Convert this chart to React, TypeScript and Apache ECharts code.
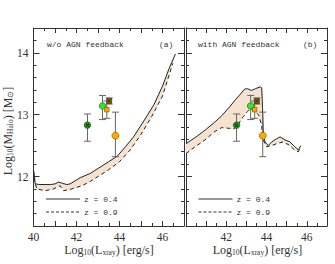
import React, { useEffect, useRef } from "react";
import * as echarts from "echarts";

// ---- data ----
// left panel (a): w/o AGN feedback
const aUpperX = [40.0, 40.03, 40.08, 40.3, 40.78, 41.0, 41.16, 41.35, 41.55, 41.7, 42.17, 42.64, 43.0, 43.5, 43.9, 44.3, 44.65, 45.1, 45.6, 46.0, 46.3, 46.6];
const aUpperY = [12.1, 12.04, 11.88, 11.87, 11.87, 11.88, 11.91, 11.89, 11.87, 11.88, 11.98, 12.05, 12.13, 12.24, 12.33, 12.49, 12.64, 12.88, 13.16, 13.46, 13.74, 13.98];
const aLowerX = [40.0, 40.05, 40.15, 40.54, 40.93, 41.24, 41.4, 41.78, 42.25, 42.64, 43.0, 43.5, 44.0, 44.5, 45.0, 45.5, 46.0, 46.48];
const aLowerY = [12.1, 11.92, 11.8, 11.77, 11.8, 11.85, 11.77, 11.8, 11.85, 11.92, 12.0, 12.11, 12.24, 12.43, 12.68, 12.97, 13.3, 13.83];

// right panel (b): with AGN feedback
const bUpperX = [40.0, 40.5, 40.95, 41.4, 41.8, 42.2, 42.45, 42.7, 42.9, 43.05, 43.25, 43.45, 43.7, 43.76, 43.8, 43.84, 43.92, 44.08, 44.26, 44.5, 44.67, 44.92, 45.16, 45.4, 45.58, 45.7];
const bUpperY = [12.53, 12.64, 12.75, 12.87, 12.99, 13.14, 13.24, 13.33, 13.41, 13.42, 13.39, 13.42, 13.45, 13.43, 13.1, 12.66, 12.56, 12.5, 12.56, 12.61, 12.64, 12.59, 12.56, 12.48, 12.43, 12.5];
const bLowerX = [40.0, 40.45, 40.94, 41.44, 41.77, 42.1, 42.4, 42.6, 42.85, 43.05, 43.2, 43.4, 43.6, 43.75, 43.83, 44.0, 44.26, 44.5, 44.83, 45.16, 45.41, 45.58, 45.7];
const bLowerY = [12.37, 12.48, 12.59, 12.73, 12.79, 12.78, 12.77, 12.85, 12.97, 13.05, 13.1, 13.05, 13.0, 12.83, 12.59, 12.48, 12.5, 12.53, 12.56, 12.5, 12.42, 12.4, 12.48];

// observed points
const pointX = [42.51, 43.21, 43.41, 43.52, 43.81];
const pointY = [12.83, 13.14, 13.08, 13.22, 12.66];
const errLow = [12.57, 12.92, 12.94, 13.17, 12.32];
const errHigh = [13.01, 13.31, 13.22, 13.27, 13.04];
const crossed = [true, false, false, true, false];

const xTicksLabeled = [40, 42, 44, 46];
const yTicksLabeled = [12, 13, 14];
const panelTitles = ["w/o AGN feedback", "with AGN feedback"];
const panelTags = ["(a)", "(b)"];
const legendLabels = ["z = 0.4", "z = 0.9"];

// ---- styles ----
const markerSymbols = ["circle", "circle", "rect", "rect", "circle"];
const markerSizes = [6.5, 6.5, 4.5, 5, 7];
const markerColors = ["#1f9e1f", "#2ee82e", "#ffa500", "#a8650c", "#ffaa00"];
const markerBorders = ["#0b4a0b", "#137013", "#8a5a00", "#4a2a00", "#8a5a00"];

const AX = "#333";
const serif = "Liberation Serif";
const mono = "Liberation Mono";

function xAxes(grid: number, showFirst: boolean) {
  const base: any = {
    type: "value",
    gridIndex: grid,
    min: 40,
    max: 47,
    interval: 1,
    splitLine: { show: false },
    axisLine: { show: true, lineStyle: { color: AX, width: 1 } },
    axisTick: { show: true, inside: true, length: 5, lineStyle: { color: AX } },
    minorTick: { show: true, splitNumber: 2, length: 3, lineStyle: { color: AX } },
  };
  return [
    {
      ...base,
      position: "bottom",
      axisLabel: {
        show: true,
        margin: 5,
        color: AX,
        fontFamily: serif,
        fontSize: 11.5,
        formatter: (v: number) =>
          xTicksLabeled.includes(v) && (showFirst || v !== 40) ? String(v) : "",
      },
    },
    { ...base, position: "top", axisLabel: { show: false } },
  ];
}

function yAxes(grid: number, showLabels: boolean) {
  const base: any = {
    type: "value",
    gridIndex: grid,
    min: 11.2,
    max: 14.4,
    interval: 0.2,
    splitLine: { show: false },
  };
  const out: any[] = [];
  for (const pos of ["left", "right"]) {
    out.push({
      ...base,
      position: pos,
      axisLine: { show: true, lineStyle: { color: AX, width: 1 } },
      axisTick: { show: true, inside: true, length: 3, lineStyle: { color: AX } },
      axisLabel: { show: false },
    });
    out.push({
      ...base,
      position: pos,
      axisLine: { show: false },
      axisTick: { show: true, inside: true, length: 6, customValues: yTicksLabeled, lineStyle: { color: AX } },
      axisLabel: {
        show: showLabels && pos === "left",
        customValues: yTicksLabeled,
        margin: 5,
        color: AX,
        fontFamily: serif,
        fontSize: 11.5,
        formatter: (v: number) => String(Math.round(v)),
      },
    });
  }
  return out;
}

function bandSeries(xi: number, yi: number, ux: number[], uy: number[], lx: number[], ly: number[]) {
  return {
    type: "custom",
    xAxisIndex: xi,
    yAxisIndex: yi,
    silent: true,
    z: 1,
    data: [[ux[0], uy[0]]],
    renderItem: (_p: any, api: any) => {
      const pts: number[][] = [];
      ux.forEach((x, i) => pts.push(api.coord([x, uy[i]])));
      for (let i = lx.length - 1; i >= 0; i--) pts.push(api.coord([lx[i], ly[i]]));
      return { type: "polygon", shape: { points: pts }, style: { fill: "#f5e2cf", stroke: "none" } };
    },
  };
}

function lineSeries(xi: number, yi: number, xs: number[], ys: number[], dashed: boolean) {
  return {
    type: "line",
    xAxisIndex: xi,
    yAxisIndex: yi,
    symbol: "none",
    z: 3,
    data: xs.map((x, i) => [x, ys[i]]),
    lineStyle: { color: "#222", width: 1, type: dashed ? [4, 3] : "solid" },
  };
}

function errorSeries(xi: number, yi: number) {
  return {
    type: "custom",
    xAxisIndex: xi,
    yAxisIndex: yi,
    z: 4,
    data: pointX.map((x, i) => [x, errLow[i], errHigh[i]]),
    encode: { x: 0, y: [1, 2] },
    renderItem: (_p: any, api: any) => {
      const x = api.value(0);
      const a = api.coord([x, api.value(1)]);
      const b = api.coord([x, api.value(2)]);
      const w = 3.5;
      const st = { stroke: "#666", lineWidth: 1 };
      return {
        type: "group",
        children: [
          { type: "line", shape: { x1: a[0], y1: a[1], x2: b[0], y2: b[1] }, style: st },
          { type: "line", shape: { x1: a[0] - w, y1: a[1], x2: a[0] + w, y2: a[1] }, style: st },
          { type: "line", shape: { x1: b[0] - w, y1: b[1], x2: b[0] + w, y2: b[1] }, style: st },
        ],
      };
    },
  };
}

function markerSeries(xi: number, yi: number) {
  return [
    {
      type: "scatter",
      xAxisIndex: xi,
      yAxisIndex: yi,
      z: 5,
      data: pointX.map((x, i) => ({
        value: [x, pointY[i]],
        symbol: markerSymbols[i],
        symbolSize: markerSizes[i],
        itemStyle: { color: markerColors[i], borderColor: markerBorders[i], borderWidth: 0.7, opacity: 1 },
      })),
    },
    {
      type: "scatter",
      xAxisIndex: xi,
      yAxisIndex: yi,
      z: 6,
      symbol: "path://M2,0L5,3L8,0L10,2L7,5L10,8L8,10L5,7L2,10L0,8L3,5L0,2Z",
      symbolSize: 4,
      itemStyle: { color: "#0a3a0a", opacity: 0.8 },
      data: pointX.map((x, i) => [x, pointY[i]]).filter((_, i) => crossed[i]),
    },
  ];
}

function textEl(text: string, x: number, y: number, opts: any = {}) {
  return {
    type: "text",
    x,
    y,
    silent: true,
    style: { text, fill: AX, fontFamily: mono, fontSize: 8, align: "left", verticalAlign: "middle", ...opts },
  };
}

const subRich = {
  n: { fontFamily: serif, fontSize: 12, lineHeight: 12, verticalAlign: "top", fill: AX },
  s: { fontFamily: serif, fontSize: 7.5, lineHeight: 8, verticalAlign: "bottom", fill: AX },
};

export default function App() {
  const ref = useRef<HTMLDivElement>(null);
  useEffect(() => {
    if (!ref.current) return;
    const chart = echarts.init(ref.current, undefined, { renderer: "svg" });
    const panelLeft = [33.5, 186];
    const legendEls: any[] = [];
    panelLeft.forEach((L, p) => {
      legendEls.push(
        { type: "line", silent: true, shape: { x1: L + 12.5, y1: 199, x2: L + 46.5, y2: 199 }, style: { stroke: "#333", lineWidth: 1 } },
        { type: "line", silent: true, shape: { x1: L + 12.5, y1: 212, x2: L + 46.5, y2: 212 }, style: { stroke: "#333", lineWidth: 1, lineDash: [3, 2] } },
        textEl(legendLabels[0], L + 50.5, 199),
        textEl(legendLabels[1], L + 50.5, 212),
        textEl(panelTitles[p], L + (p === 0 ? 13.5 : 12), 44),
        textEl(panelTags[p], L + (p === 0 ? 125.5 : 117), 44),
        {
          type: "text",
          silent: true,
          x: L + (p === 0 ? 75.5 : 71.5),
          y: 250,
          style: {
            text: "{n|Log}{s|10}{n|(L}{s|xray}{n|) [erg/s]}",
            rich: subRich,
            align: "center",
            verticalAlign: "middle",
          },
        }
      );
    });
    legendEls.push({
      type: "text",
      silent: true,
      x: 8,
      y: 131,
      rotation: Math.PI / 2,
      style: {
        text: "{n|Log}{s|10}{n|(M}{s|Halo}{n|) [M}{s|⊙}{n|]}",
        rich: subRich,
        align: "center",
        verticalAlign: "middle",
      },
    });

    chart.setOption({
      animation: false,
      backgroundColor: "#ffffff",
      textStyle: { fontFamily: serif },
      grid: [
        { left: 33.5, top: 28, width: 150.5, height: 198 },
        { left: 186, top: 28, width: 141, height: 198 },
      ],
      xAxis: [...xAxes(0, true), ...xAxes(1, false)],
      yAxis: [...yAxes(0, true), ...yAxes(1, false)],
      graphic: legendEls,
      series: [
        bandSeries(0, 0, aUpperX, aUpperY, aLowerX, aLowerY),
        lineSeries(0, 0, aUpperX, aUpperY, false),
        lineSeries(0, 0, aLowerX, aLowerY, true),
        errorSeries(0, 0),
        ...markerSeries(0, 0),
        bandSeries(2, 4, bUpperX, bUpperY, bLowerX, bLowerY),
        lineSeries(2, 4, bUpperX, bUpperY, false),
        lineSeries(2, 4, bLowerX, bLowerY, true),
        errorSeries(2, 4),
        ...markerSeries(2, 4),
      ],
    });
    return () => chart.dispose();
  }, []);
  return (
    <div
      ref={ref}
      style={{ position: "fixed", left: 0, top: 0, width: 335, height: 264, background: "#fff" }}
    />
  );
}
